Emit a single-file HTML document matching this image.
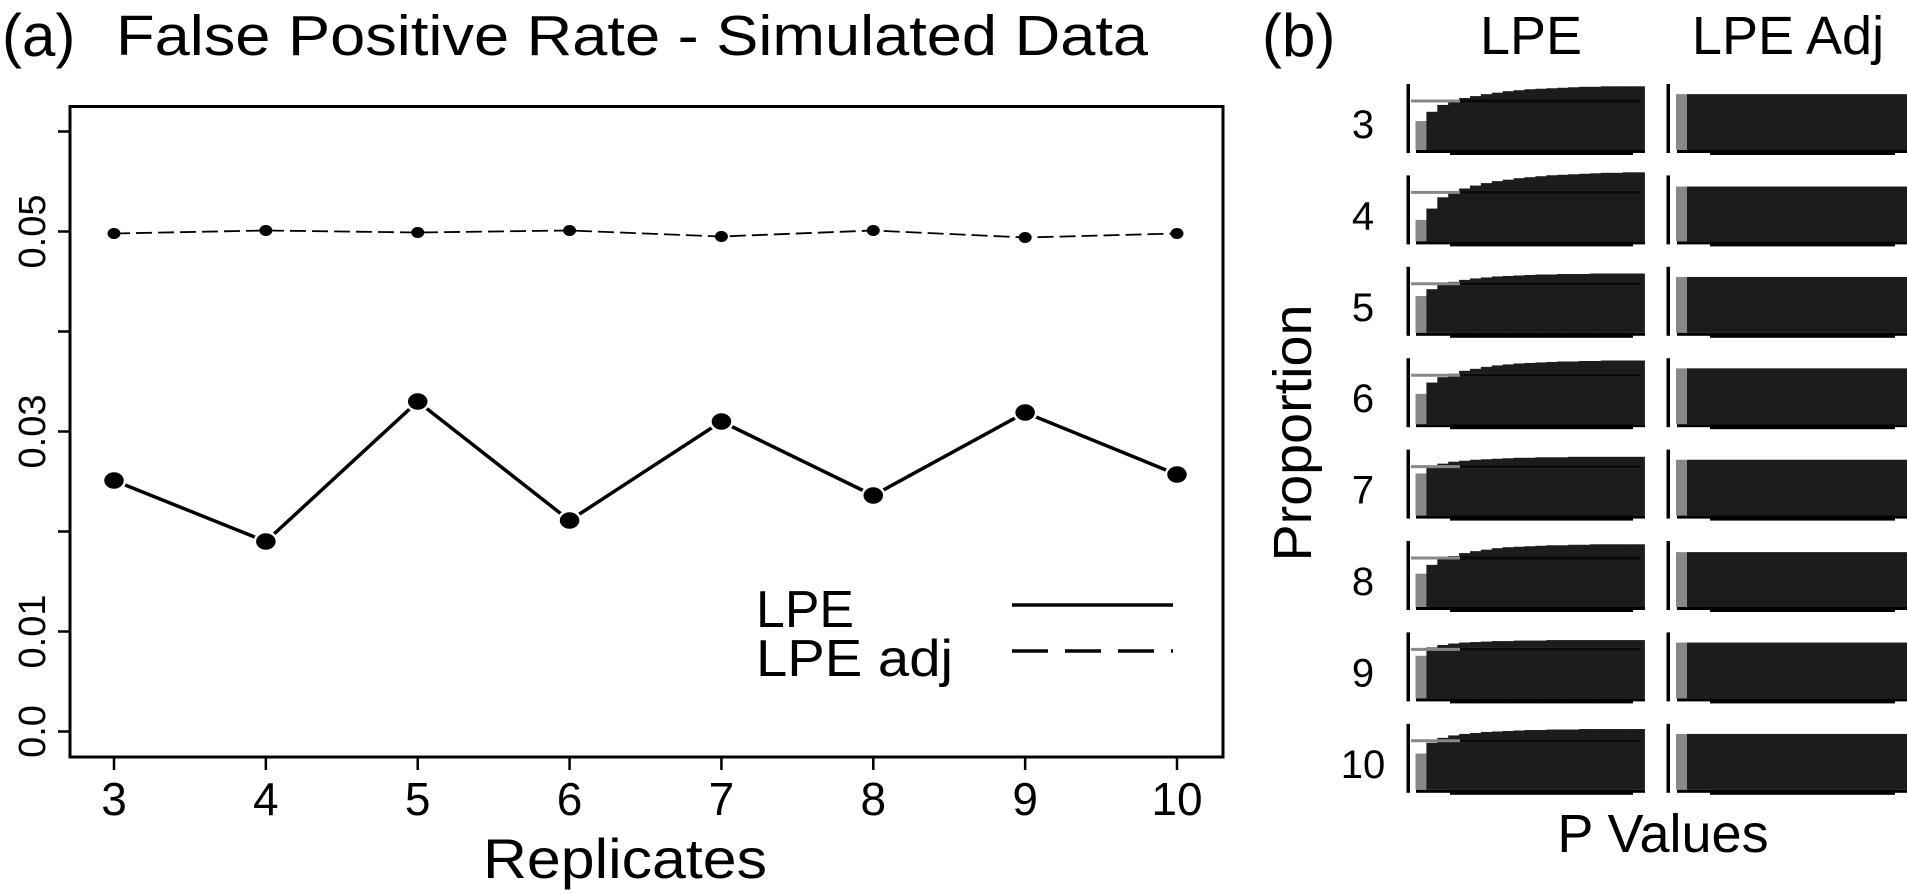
<!DOCTYPE html>
<html><head><meta charset="utf-8"><style>
html,body{margin:0;padding:0;background:#fff;width:1907px;height:894px;overflow:hidden}
svg{display:block;font-family:"Liberation Sans",sans-serif}
</style></head><body>
<svg id="fig" width="1907" height="894" viewBox="0 0 1907 894" xmlns="http://www.w3.org/2000/svg">
<g id="pa"></g>
<g id="pb"></g>
</svg>
<script>
// Panel (a) data
const replicates = [3,4,5,6,7,8,9,10];
const lpeValues = [0.0251,0.0190,0.0330,0.0211,0.0310,0.0236,0.0319,0.0257];
const lpeAdjValues = [0.0498,0.0501,0.0499,0.0501,0.0495,0.0501,0.0494,0.0498];
const yTicks = [0,0.01,0.02,0.03,0.04,0.05,0.06];
const yTickLabels = ["0.0","0.01","","0.03","","0.05",""];
// Panel (b) data: histogram bin proportions (uniform = 1)
const rowLabels = ["3","4","5","6","7","8","9","10"];
const lpeBins = [
 [0.59,0.78,0.92,1.00,1.06,1.10,1.14,1.17,1.20,1.22,1.24,1.25,1.26,1.27,1.28,1.29,1.29,1.30,1.30,1.30,1.30],
 [0.44,0.67,0.90,1.00,1.08,1.14,1.19,1.23,1.26,1.29,1.31,1.33,1.35,1.36,1.37,1.38,1.39,1.40,1.40,1.41,1.41],
 [0.75,0.89,0.98,1.04,1.08,1.11,1.13,1.15,1.16,1.17,1.18,1.19,1.19,1.20,1.20,1.20,1.21,1.21,1.21,1.21,1.21],
 [0.62,0.85,0.96,1.03,1.09,1.13,1.17,1.20,1.22,1.24,1.25,1.26,1.27,1.28,1.28,1.29,1.29,1.30,1.30,1.30,1.30],
 [0.86,1.00,1.06,1.10,1.12,1.14,1.15,1.16,1.17,1.18,1.18,1.19,1.19,1.19,1.20,1.20,1.20,1.20,1.20,1.20,1.20],
 [0.68,0.86,0.97,1.04,1.10,1.14,1.17,1.20,1.22,1.23,1.24,1.25,1.26,1.26,1.27,1.27,1.28,1.28,1.28,1.28,1.28],
 [0.87,1.04,1.09,1.12,1.14,1.15,1.16,1.17,1.17,1.18,1.18,1.18,1.19,1.19,1.19,1.19,1.19,1.19,1.19,1.19,1.19],
 [0.74,0.96,1.06,1.11,1.14,1.16,1.18,1.19,1.20,1.21,1.22,1.22,1.23,1.23,1.23,1.24,1.24,1.24,1.24,1.24,1.24]
];
const adjBins = [1.14,1.12,1.14,1.14,1.14,1.12,1.14,1.14];

const NS="http://www.w3.org/2000/svg";
function mk(tag, attrs, parent, text){
  const e=document.createElementNS(NS,tag);
  for(const k in attrs) e.setAttribute(k,attrs[k]);
  if(text!==undefined) e.textContent=text;
  parent.appendChild(e); return e;
}
const pa=document.getElementById('pa');
const pb=document.getElementById('pb');
// axis functions
const xS = r => 114 + (r-3)*(1177-114)/7;
const yS = v => 731.5 - v*10000;

let t;
t=mk('text',{x:2,y:56,'font-size':60},pa,'(a)');


t=mk('text',{x:116,y:55,'font-size':57,textLength:1032,lengthAdjust:'spacingAndGlyphs'},pa,'False Positive Rate - Simulated Data');


t=mk('rect',{x:70,y:106.5,width:1153,height:650.5,fill:'none',stroke:'#000','stroke-width':3},pa);


yTicks.forEach((v,i)=>{
  const l=mk('line',{x1:58,x2:70,y1:yS(v),y2:yS(v),stroke:'#000','stroke-width':2.5},pa);
  
  
  if(yTickLabels[i]){
    const tx=mk('text',{x:0,y:0,'font-size':38,'text-anchor':'middle',transform:`translate(45,${yS(v)}) rotate(-90)`},pa,yTickLabels[i]);
    
    
  }
});
replicates.forEach(r=>{
  const l=mk('line',{x1:xS(r),x2:xS(r),y1:757,y2:770,stroke:'#000','stroke-width':2.5},pa);
  
  
  const tx=mk('text',{x:xS(r),y:815,'font-size':46,'text-anchor':'middle'},pa,String(r));
  
  
});
t=mk('text',{x:625,y:878,'font-size':56,'text-anchor':'middle',textLength:284,lengthAdjust:'spacingAndGlyphs'},pa,'Replicates');


// series
t=mk('polyline',{points:replicates.map((r,i)=>xS(r)+','+yS(lpeAdjValues[i])).join(' '),fill:'none',stroke:'#000','stroke-width':1.8,'stroke-dasharray':'16,6'},pa);


t=mk('polyline',{points:replicates.map((r,i)=>xS(r)+','+yS(lpeValues[i])).join(' '),fill:'none',stroke:'#000','stroke-width':3.5},pa);


replicates.forEach((r,i)=>{
  const c=mk('ellipse',{cx:xS(r),cy:yS(lpeAdjValues[i]),rx:6.5,ry:5.5,fill:'#000'},pa);
  
  
  const d=mk('ellipse',{cx:xS(r),cy:yS(lpeValues[i]),rx:11,ry:9.5,fill:'#000',stroke:'#fff','stroke-width':2.5},pa);
  
  
});
// legend
t=mk('text',{x:756,y:627,'font-size':52,textLength:98,lengthAdjust:'spacingAndGlyphs'},pa,'LPE');


t=mk('text',{x:756,y:676,'font-size':52,textLength:197,lengthAdjust:'spacingAndGlyphs'},pa,'LPE adj');


t=mk('line',{x1:1012,x2:1173,y1:605,y2:605,stroke:'#000','stroke-width':3.5},pa);


t=mk('line',{x1:1012,x2:1173,y1:651,y2:651,stroke:'#000','stroke-width':3.5,'stroke-dasharray':'36,17'},pa);



// Panel b
t=mk('text',{x:1262,y:56,'font-size':60},pb,'(b)');


t=mk('text',{x:1531,y:54,'font-size':54,'text-anchor':'middle'},pb,'LPE');


t=mk('text',{x:1788,y:54,'font-size':54,'text-anchor':'middle'},pb,'LPE Adj');


t=mk('text',{x:0,y:0,'font-size':54,'text-anchor':'middle',textLength:257,lengthAdjust:'spacingAndGlyphs',transform:'translate(1311,433) rotate(-90)'},pb,'Proportion');


t=mk('text',{x:1663,y:852,'font-size':54,'text-anchor':'middle'},pb,'P Values');


const unit=49, pitch=91.4, bw=10.9;
rowLabels.forEach((lab,ri)=>{
  const r0=84+ri*pitch, base=r0+66;
  const tx=mk('text',{x:1363,y:r0+54,'font-size':40,'text-anchor':'middle'},pb,lab);
  
  
  const ax=mk('rect',{x:1406.5,y:r0,width:3.5,height:69,fill:'#000'},pb);
  
  
  lpeBins[ri].forEach((v,bi)=>{
    const b=mk('rect',{x:1415.5+bi*bw,y:base-v*unit,width:bw+0.5,height:v*unit,fill:bi===0?'#888':'#1c1c1c'},pb);
    
    
  });
  const ul=mk('line',{x1:1411,x2:1640,y1:base-unit,y2:base-unit,stroke:'#888','stroke-width':3},pb);
  
  
  const ul2=mk('line',{x1:1460,x2:1640,y1:base-unit,y2:base-unit,stroke:'#080808','stroke-width':3},pb);
  
  
  let bl=mk('rect',{x:1416,y:base,width:229,height:3,fill:'#000'},pb);
  
  
  bl=mk('rect',{x:1450,y:base,width:183,height:5,fill:'#000'},pb);
  
  
  const ax2=mk('rect',{x:1666.5,y:r0,width:3.5,height:69,fill:'#000'},pb);
  
  
  const h=adjBins[ri]*unit;
  let b=mk('rect',{x:1676,y:base-h,width:11,height:h,fill:'#888'},pb);
  
  
  b=mk('rect',{x:1687,y:base-h,width:220,height:h,fill:'#1c1c1c'},pb);
  
  
  bl=mk('rect',{x:1677,y:base,width:230,height:3,fill:'#000'},pb);
  
  
  bl=mk('rect',{x:1710,y:base,width:185,height:5,fill:'#000'},pb);
  
  
});
</script>
</body></html>
